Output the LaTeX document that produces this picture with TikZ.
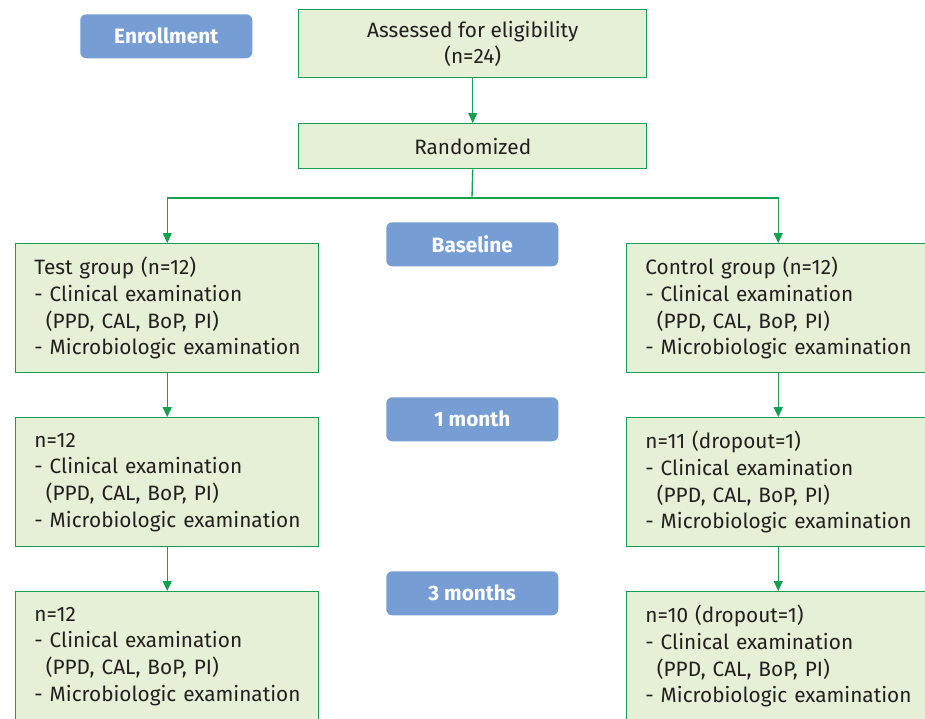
\documentclass[tikz,border=0pt]{standalone}
\usepackage{fontspec}
\setmainfont{Fira Sans}
\usetikzlibrary{arrows.meta}
\definecolor{gline}{RGB}{20,160,80}
\definecolor{gfill}{RGB}{230,240,214}
\definecolor{lblue}{RGB}{118,158,212}
\definecolor{txt}{RGB}{35,31,32}
\newcommand{\ind}{\hspace*{0.55em}}
\newcommand{\exams}{\mbox{- Clinical examination}\\\mbox{\ind(PPD, CAL, BoP, PI)}\\\mbox{- Microbiologic examination}}
\begin{document}
\begin{tikzpicture}[x=0.75pt,y=-0.75pt,
  box/.style={draw=gline,fill=gfill,line width=1.1pt,text=txt,
    font=\fontsize{15.6}{20}\selectfont,inner sep=0pt,anchor=north west},
  topbox/.style={box,minimum width=261pt,align=center},
  bigbox/.style={box,inner xsep=14pt,text width=199.25pt,minimum height=96.75pt,align=left},
  lbl/.style={fill=lblue,rounded corners=4.5pt,text=white,
    font=\fontsize{15.6}{20}\selectfont\bfseries,minimum width=129pt,minimum height=33pt,
    inner sep=0pt,anchor=north west},
  arr/.style={draw=gline,line width=1pt,-{Triangle[length=7.5pt,width=6.8pt]}},
  ln/.style={draw=gline,line width=1pt}]
\clip (0,0) rectangle (925,718);
\fill[white] (0,0) rectangle (925,718);
% top
\node[topbox,minimum height=51pt] (assess) at (298,9) {Assessed for eligibility\\(n=24)};
\node[topbox,minimum height=33.75pt] (rand) at (298,123) {Randomized};
\node[lbl] (enroll) at (80,14) {Enrollment};
% labels
\node[lbl] (base) at (386,222) {Baseline};
\node[lbl] (m1) at (386,397) {1 month};
\node[lbl] (m3) at (386,571) {3 months};
% left column
\node[bigbox] (test) at (15,243) {Test group (n=12)\\\exams};
\node[bigbox] (t1) at (15,417) {n=12\\\exams};
\node[bigbox] (t3) at (15,591) {n=12\\\exams};
% right column
\node[bigbox] (ctrl) at (626,243) {Control group (n=12)\\\exams};
\node[bigbox] (c1) at (626,417) {n=11 (dropout=1)\\\exams};
\node[bigbox] (c3) at (626,591) {n=10 (dropout=1)\\\exams};
% connectors
\coordinate (split) at (472,198);
\draw[arr] (assess) -- (rand);
\draw[ln] (rand.south) -- (split);
\draw[arr] (split) -| (test.north);
\draw[arr] (split) -| (ctrl.north);
\draw[arr] (test) -- (t1);
\draw[arr] (t1) -- (t3);
\draw[arr] (ctrl) -- (c1);
\draw[arr] (c1) -- (c3);
\end{tikzpicture}
\end{document}
